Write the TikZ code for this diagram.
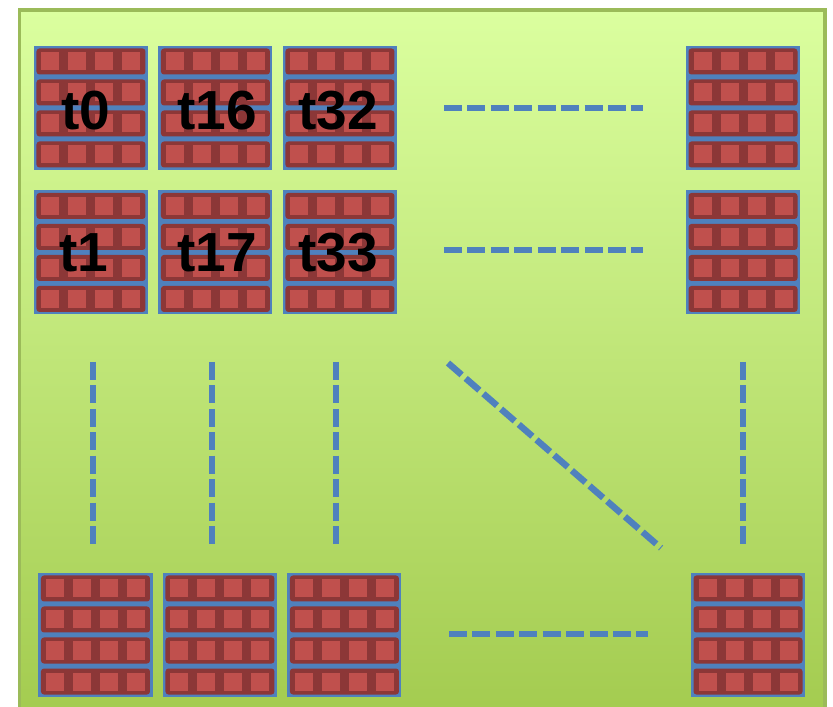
\documentclass[tikz,border=0pt]{standalone}
\usepackage{fontspec}
\setsansfont{Liberation Sans}
\usetikzlibrary{positioning, calc}
\definecolor{tBlue}{HTML}{4F81BD}
\definecolor{tRed}{HTML}{8C3737}
\definecolor{tRose}{HTML}{C0504D}
\definecolor{fTop}{HTML}{DBFF9F}
\definecolor{fBot}{HTML}{A3CB4F}
\definecolor{fEdge}{HTML}{9BBB59}
\tikzset{
  % one thread tile: 4 bars of 4 cells, drawn via path picture
  tile/.style={fill=tBlue, inner sep=0pt,
    minimum width=3.42cm, minimum height=3.72cm,
    path picture={\foreach \rr in {0,...,3}{
      \fill[tRed, rounded corners=2.5pt]
        ($(path picture bounding box.north west)+(2.5,2.5+31*\rr)$) rectangle ++(109,26);
      \foreach \cc in {0,...,3}
        \fill[tRose]
          ($(path picture bounding box.north west)+(7.5+27*\cc,6.5+31*\rr)$) rectangle ++(18,18);}}},
  lbl/.style={font=\fontsize{47}{50}\selectfont\sffamily\bfseries,
    anchor=base, inner sep=0pt},
  gap/.style={draw=tBlue, line width=5.5pt, dash pattern=on 15.4pt off 4.6pt},
}

\begin{document}
\begin{tikzpicture}[x=0.03cm, y=-0.03cm, node distance=0.3cm]
\useasboundingbox (0,0) rectangle (833,707);
\clip (0,0) rectangle (833,707);

% ── panel ────────────────────────────────────────────────
\shadedraw[top color=fTop, bottom color=fBot, draw=fEdge, line width=2.6pt]
  (19.5,10) rectangle (825,720);

% ── first row of tiles ───────────────────────────────────
\node[tile] (b0) at (91,108) {};
\node[tile, right=of b0] (b16) {};
\node[tile, right=of b16] (b32) {};
\node[tile] (bR1) at (743,108) {};

% ── second row ───────────────────────────────────────────
\node[tile, below=0.6cm of b0] (b1) {};
\node[tile, below=0.6cm of b16] (b17) {};
\node[tile, below=0.6cm of b32] (b33) {};
\node[tile, below=0.6cm of bR1] (bR2) {};

% ── last row ─────────────────────────────────────────────
\node[tile] (bz0) at (95.5,635) {};
\node[tile, right=of bz0] (bz1) {};
\node[tile, right=of bz1] (bz2) {};
\node[tile] (bzR) at (748,635) {};

% ── thread labels ────────────────────────────────────────
\node[lbl] (l0) at (86,130) {t0};
\node[lbl] (l16) at (217,130) {t16};
\node[lbl] (l32) at (338,130) {t32};
\node[lbl] (l1) at (84,272) {t1};
\node[lbl] (l17) at (217,272) {t17};
\node[lbl] (l33) at (338,272) {t33};

% ── ellipsis marks ───────────────────────────────────────
\coordinate (h1a) at (444,108); \coordinate (h1b) at (643,108);
\coordinate (h2a) at (444,250); \coordinate (h2b) at (643,250);
\coordinate (h3a) at (449,634); \coordinate (h3b) at (648,634);
\draw[gap] (h1a) -- (h1b);
\draw[gap] (h2a) -- (h2b);
\draw[gap] (h3a) -- (h3b);
\foreach \xx/\nm in {93/v0, 212/v1, 336/v2, 743/vR}{
  \coordinate (\nm a) at (\xx,362);
  \coordinate (\nm b) at (\xx,546);
  \draw[gap] (\nm a) -- (\nm b);
}
\coordinate (da) at (448,363);
\coordinate (db) at (661,548);
\draw[gap] (da) -- (db);

\end{tikzpicture}
\end{document}
